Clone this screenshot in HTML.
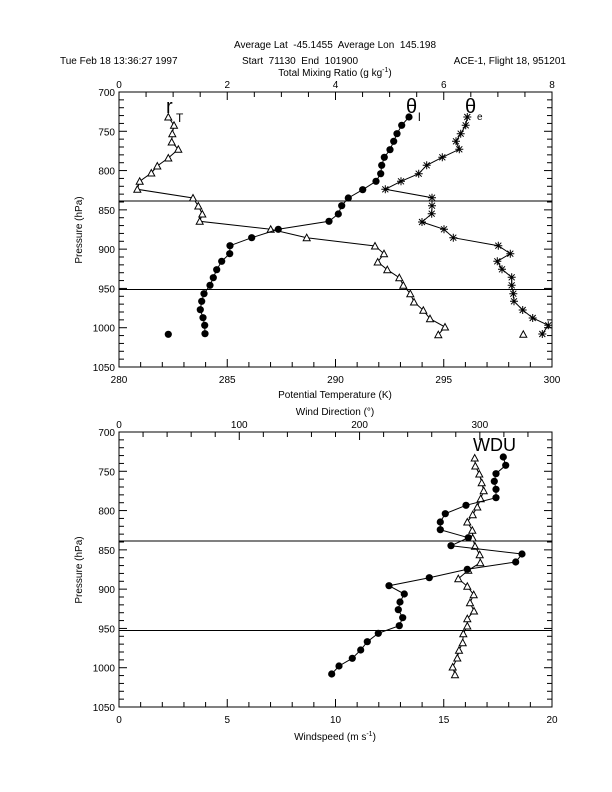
<!DOCTYPE html>
<html><head><meta charset="utf-8"><style>
html,body{margin:0;padding:0;background:#fff;}
svg{display:block;font-family:"Liberation Sans",sans-serif;}
text{font-size:10px;fill:#000;white-space:pre;}
</style></head><body>
<svg id="s" width="612" height="792" viewBox="0 0 612 792" xmlns="http://www.w3.org/2000/svg" xml:space="preserve">
<rect width="612" height="792" fill="#fff"/>
<text x="335" y="48" text-anchor="middle">Average Lat  -45.1455  Average Lon  145.198</text>
<text x="60" y="64">Tue Feb 18 13:36:27 1997</text>
<text x="300" y="64" text-anchor="middle">Start  71130  End  101900</text>
<text x="566" y="64" text-anchor="end">ACE-1, Flight 18, 951201</text>
<text x="335" y="76" text-anchor="middle">Total Mixing Ratio (g kg<tspan dy="-4" font-size="7">-1</tspan><tspan dy="4">)</tspan></text>
<text x="335" y="398" text-anchor="middle">Potential Temperature (K)</text>
<text x="335" y="415" text-anchor="middle">Wind Direction (&#176;)</text>
<text x="335" y="740" text-anchor="middle">Windspeed (m s<tspan dy="-4" font-size="7">-1</tspan><tspan dy="4">)</tspan></text>
<text transform="translate(82,230) rotate(-90)" text-anchor="middle">Pressure (hPa)</text>
<text transform="translate(82,570) rotate(-90)" text-anchor="middle">Pressure (hPa)</text>
<text x="166" y="113" style="font-size:20px">r</text>
<text x="176" y="122" style="font-size:12px">T</text>
<text x="406" y="113" style="font-size:20px">&#952;</text>
<text x="418" y="121" style="font-size:12px">l</text>
<text x="465" y="113" style="font-size:20px">&#952;</text>
<text x="477" y="120" style="font-size:10px">e</text>
<text x="473" y="451" style="font-size:18px">WDU</text>
<g id="g" stroke="#000" stroke-width="1" fill="none"></g>
</svg>
<script>
var g=document.getElementById('g'),s=document.getElementById('s'),NS='http://www.w3.org/2000/svg';
function el(t,a,p){var e=document.createElementNS(NS,t);for(var k in a)e.setAttribute(k,a[k]);(p||g).appendChild(e);return e;}
function txt(x,y,t,anc){var e=el('text',{x:x,y:y,'text-anchor':anc||'middle'},s);e.textContent=t;}
var L=119,R=552;
function axes(T,B,topMaj,topMin,topMax,topLab,botMaj,botMin,botMax,botLab,hl){
 el('rect',{x:L,y:T,width:R-L,height:B-T});
 var ph=(B-T)/350;
 for(var p=700;p<=1050;p+=10){var y=T+(p-700)*ph,len=(p%50==0)?8:5;
  el('line',{x1:L,y1:y,x2:L+len,y2:y});el('line',{x1:R,y1:y,x2:R-len,y2:y});
  if(p%50==0)txt(L-4,y+4,String(p),'end');}
 for(var v=0;v<=topMax+1e-9;v+=topMin){var x=L+(R-L)*v/topMax,maj=Math.abs(v/topMaj-Math.round(v/topMaj))<1e-6;
  el('line',{x1:x,y1:T,x2:x,y2:T+(maj?8:5)});
  if(maj)txt(x,T-4,topLab(v));}
 for(var v=0;v<=botMax+1e-9;v+=botMin){var x=L+(R-L)*v/botMax,maj=Math.abs(v/botMaj-Math.round(v/botMaj))<1e-6;
  el('line',{x1:x,y1:B,x2:x,y2:B-(maj?8:5)});
  if(maj)txt(x,B+16,botLab(v));}
 hl.forEach(function(y){el('line',{x1:L,y1:y,x2:R,y2:y});});
}
axes(92,367,2,0.5,8,function(v){return String(v)},5,1,20,function(v){return String(280+v)},[201,289.5]);
axes(432,707,100,20,360,function(v){return v<=300?String(v):''},5,1,20,function(v){return String(v)},[541,630.5]);
function line(pts){el('polyline',{points:pts.map(function(p){return p.join(',')}).join(' ')});}
function circ(pts){pts.forEach(function(p){el('circle',{cx:p[0],cy:p[1],r:3.6,fill:'#000',stroke:'none'});});}
function tri(pts){pts.forEach(function(p){var x=p[0],y=p[1];el('polygon',{points:(x-3.5)+','+(y+3)+' '+(x+3.5)+','+(y+3)+' '+x+','+(y-3.5),fill:'#fff'});});}
function star(pts){pts.forEach(function(p){var x=p[0],y=p[1];
 el('path',{d:'M'+(x-4)+' '+y+'h8M'+x+' '+(y-4)+'v8M'+(x-3)+' '+(y-3)+'l6 6M'+(x-3)+' '+(y+3)+'l6 -6'});});}
var rT=[[168.3,117],[174,125.3],[172.3,133.7],[171.7,142],[178.3,149.3],[168.3,158],[157.3,166],[151.3,173],[139.7,181.3],[137.3,189.3],[193,198],[198.3,206],[202.3,214],[199.7,221.3],[270.7,229.3],[306.7,237.7],[375,246],[384,253.7],[377.7,262],[387.3,269.7],[399.3,277.7],[403.3,285.3],[410.3,293.7],[414,302],[423.3,310.3],[430,318.7],[445,327],[438.3,334.7]];
var thl=[[409,117],[401.7,125.3],[397,133.7],[393.7,141.3],[390,149.7],[384.3,157.3],[381.7,165.3],[380.7,173.7],[376,181.3],[362.7,189.7],[348.3,198],[341.7,205.7],[338.3,214],[329,221.3],[278.3,229.3],[251.7,237.7],[230,245.7],[229.7,253.7],[221.7,261.3],[216.7,269.7],[213.3,277.7],[210,285.3],[204,293.7],[201.7,301.3],[200.3,309.7],[203,317.7],[204.7,325.3],[205,333.7]];
var the=[[467.3,117],[465.7,125.3],[460.7,133.7],[456,141.3],[459.3,149.3],[442.3,157.3],[426.7,165.3],[418.7,173.7],[401,181.3],[385.3,189.3],[432,197.7],[432,205.7],[431.7,213.7],[422,222],[444,229.3],[453.3,237.7],[498.3,245.7],[510.3,253.7],[497.3,261.3],[502,269.3],[511.7,277.3],[511.7,285.3],[513.3,293.7],[514,301.3],[522.7,310],[532.7,318],[548.3,325.3],[542.3,334]];
line(rT);tri(rT);tri([[523.3,334.3]]);
line(thl);circ(thl);circ([[168.3,334.3]]);
line(the);star(the);
var wd=[[474.7,458],[475.3,466],[479.3,474],[481.7,482.7],[483.7,490.7],[480.7,498.7],[477.3,507],[472.7,514.7],[467.3,522],[472.3,530.3],[472.7,538],[475,546.3],[479.7,554.7],[480.3,562.7],[468.3,570.3],[458.3,578.7],[467.3,586.3],[473.7,594.7],[470,602.7],[474,611],[467.3,618.7],[467.3,626],[463.3,633.7],[462.7,642.7],[459,650.3],[457.3,658],[452.7,667],[455,674.7]];
var ws=[[503.3,457],[505.7,465.3],[496,473.7],[494.3,481.3],[496,489.3],[496,497.7],[466,505.3],[445.3,513.7],[440.3,522],[440.3,529.7],[468.3,537.7],[451,545.7],[522,554],[515.7,562],[467.3,569.3],[429.3,577.7],[389,585.7],[404.3,594],[400,602],[398.3,609.7],[402.7,617.7],[399.3,625.7],[378.3,633.3],[367.3,641.7],[360.7,650],[352.3,658.3],[339,666],[331.7,674]];
line(wd);tri(wd);line(ws);circ(ws);
</script>
</body></html>
